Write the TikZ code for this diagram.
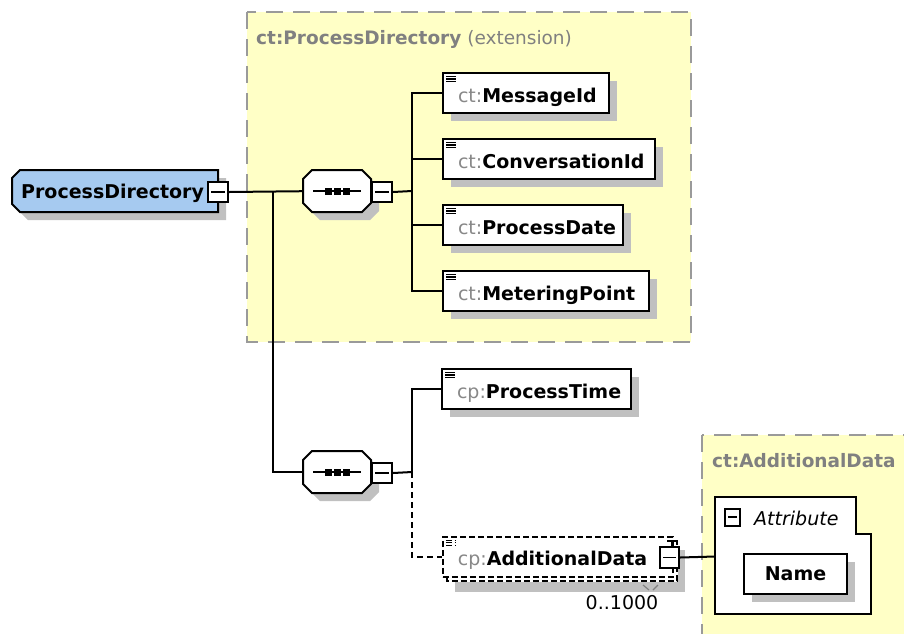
\documentclass[tikz,border=0pt]{standalone}
\usepackage{fontspec}
\setmainfont{DejaVu Sans}
\usetikzlibrary{shadows}
\definecolor{ylw}{HTML}{FFFFC6}
\definecolor{ylwborder}{HTML}{9A9A9A}
\definecolor{rootblue}{HTML}{A6CAF0}
\definecolor{shgray}{HTML}{C0C0C0}
\definecolor{pfx}{HTML}{888888}
\definecolor{ttl}{HTML}{808080}
\newcommand\elt[2]{\hspace*{15pt}{\mdseries\color{pfx}#1:}\textbf{#2}}
\begin{document}
\begin{tikzpicture}[x=1pt,y=-1pt,
  every node/.style={font=\fontsize{19}{22}\selectfont},
  ttlfont/.style={font=\fontsize{18.5}{22}\selectfont},
  ln/.style={line width=2pt, draw=black},
  conn/.style={line width=2pt, draw=black},
  dconn/.style={conn, dash pattern=on 6pt off 4pt},
  dbox/.style={line width=1.8pt, dash pattern=on 6pt off 3pt},
  grpbox/.style={fill=ylw, draw=ylwborder, line width=2pt, dash pattern=on 17pt off 10pt},
  shad/.style={fill=shgray, draw=none},
  sh/.style={drop shadow={shadow xshift=8pt, shadow yshift=-8pt, fill=shgray, opacity=1}},
  icon/.style={path picture={\foreach \dy in {3.5,6,8.5} \draw[line width=1.1pt] ([xshift=3pt,yshift=-\dy pt]path picture bounding box.north west) -- ++(10,0);}},
  elembase/.style={rectangle, ln, fill=white, anchor=north west, inner xsep=0pt, inner ysep=0pt,
     text width=#1, minimum height=40pt, align=left, text height=18pt, text depth=0pt, icon},
  elem/.style={elembase=#1, sh},
  minusbox/.style 2 args={rectangle, ln, fill=white, anchor=north west, inner sep=0pt,
     minimum width=#1, minimum height=#2,
     path picture={\draw[line width=1.8pt] ([xshift=3pt]path picture bounding box.west) -- ([xshift=-3pt]path picture bounding box.east);}},
  plain/.style={anchor=north west, inner sep=0pt, align=left},
]
\useasboundingbox (0,0) rectangle (904,633);
\fill[white] (0,0) rectangle (904,633);

% group boxes
\draw[grpbox] (247,12) rectangle (691,342);
\node[ttlfont, anchor=base west, text=ttl, inner sep=0pt] (t1) at (256,44) {\textbf{ct:ProcessDirectory} (extension)};
\begin{scope}
  \clip (0,0) rectangle (904,633);
  \draw[grpbox] (702,435) rectangle (920,650);
\end{scope}
\node[ttlfont, anchor=base west, text=ttl, inner sep=0pt] (t2) at (712,467) {\textbf{ct:AdditionalData}};

% root
\fill[shad, shift={(8,8)}] (20,170) -- (218,170) -- (218,212) -- (20,212) -- (12,204) -- (12,178) -- cycle;
\draw[ln, fill=rootblue] (20,170) -- (218,170) -- (218,212) -- (20,212) -- (12,204) -- (12,178) -- cycle;
\node[plain, minimum width=206pt, minimum height=42pt, text width=206pt, text height=14pt, text depth=0pt] (root) at (12,170) {\hspace*{9pt}\textbf{ProcessDirectory}};
\node[minusbox={20pt}{20pt}] (rootm) at (207,181) {};

% sequences
\foreach \yt/\yb in {170/212, 451/493} {
  \fill[shad, shift={(8,8)}] (312,\yt) -- (362,\yt) -- (371,\yt+9) -- (371,\yb-9) -- (362,\yb) -- (312,\yb) -- (303,\yb-9) -- (303,\yt+9) -- cycle;
  \draw[ln, fill=white] (312,\yt) -- (362,\yt) -- (371,\yt+9) -- (371,\yb-9) -- (362,\yb) -- (312,\yb) -- (303,\yb-9) -- (303,\yt+9) -- cycle;
}
\node[plain, minimum width=68pt, minimum height=42pt] (s1) at (303,170) {};
\node[plain, minimum width=68pt, minimum height=42pt] (s2) at (303,451) {};
\foreach \s in {s1,s2} {
  \draw[line width=1.8pt] ([xshift=-24pt]\s.center) -- ([xshift=24pt]\s.center);
  \foreach \dx in {-9,0,9}
    \fill ([xshift=\dx pt]\s.center) +(-3.5,-3.5) rectangle +(3.5,3.5);
}
\node[minusbox={20pt}{20pt}] (s1m) at (371,181) {};
\node[minusbox={20pt}{20pt}] (s2m) at (371,462) {};

% elements
\node[elem=166pt] (e1) at (442,72) {\elt{ct}{MessageId}};
\node[elem=212pt] (e2) at (442,138) {\elt{ct}{ConversationId}};
\node[elem=180pt] (e3) at (442,204) {\elt{ct}{ProcessDate}};
\node[elem=206pt] (e4) at (442,270) {\elt{ct}{MeteringPoint}};
\node[elem=189pt] (e5) at (441,368) {\elt{cp}{ProcessTime}};

% additional data (repeated element)
\fill[shad] (455,582) rectangle (685,592);
\fill[shad] (678,550) rectangle (685,592);
\draw[dbox, fill=white] (447,541) rectangle (677,581);
\node[elembase=230pt, dbox] (ad) at (442,536) {\elt{cp}{AdditionalData}};
\node[minusbox={19pt}{21pt}] (adm) at (659,546) {};
\draw[line width=1.6pt] (667,541) -- (676,541) (671.5,541) -- (671.5,546);
\draw[ttl, line width=1.2pt] (643,585) -- (649,590) (653,590) -- (658,585);
\node (mult) at (622,603) {0..1000};

% attribute group
\draw[ln, fill=white] (715,497) -- (856,497) -- (856,534) -- (871,534) -- (871,614) -- (715,614) -- cycle;
\coordinate (attrw) at (715,556.5);
\node[minusbox={15pt}{17pt}, line width=1.6pt] (attm) at (724,508) {};
\node[anchor=base west, inner sep=0pt] (attl) at (754,525) {\textit{Attribute}};
\node[rectangle, ln, fill=white, sh, anchor=north west, minimum width=103pt, minimum height=40pt, inner sep=0pt] (name) at (743,553) {\textbf{Name}};

% connectors
\coordinate (j1) at (273,191);
\coordinate (j2) at (412,191);
\coordinate (j3) at (412,472);
\draw[conn] (rootm.east) -- (s1.west);
\draw[conn] (j1) |- (s2.west);
\draw[conn] (s1m.east) -- (j2);
\foreach \e in {e1,e2,e3,e4} \draw[conn] (j2) |- (\e.west);
\draw[conn] (s2m.east) -- (j3);
\draw[conn] (j3) |- (e5.west);
\draw[dconn] (j3) |- (ad.west);
\draw[conn] (adm.east) -- (attrw);
\end{tikzpicture}
\end{document}
